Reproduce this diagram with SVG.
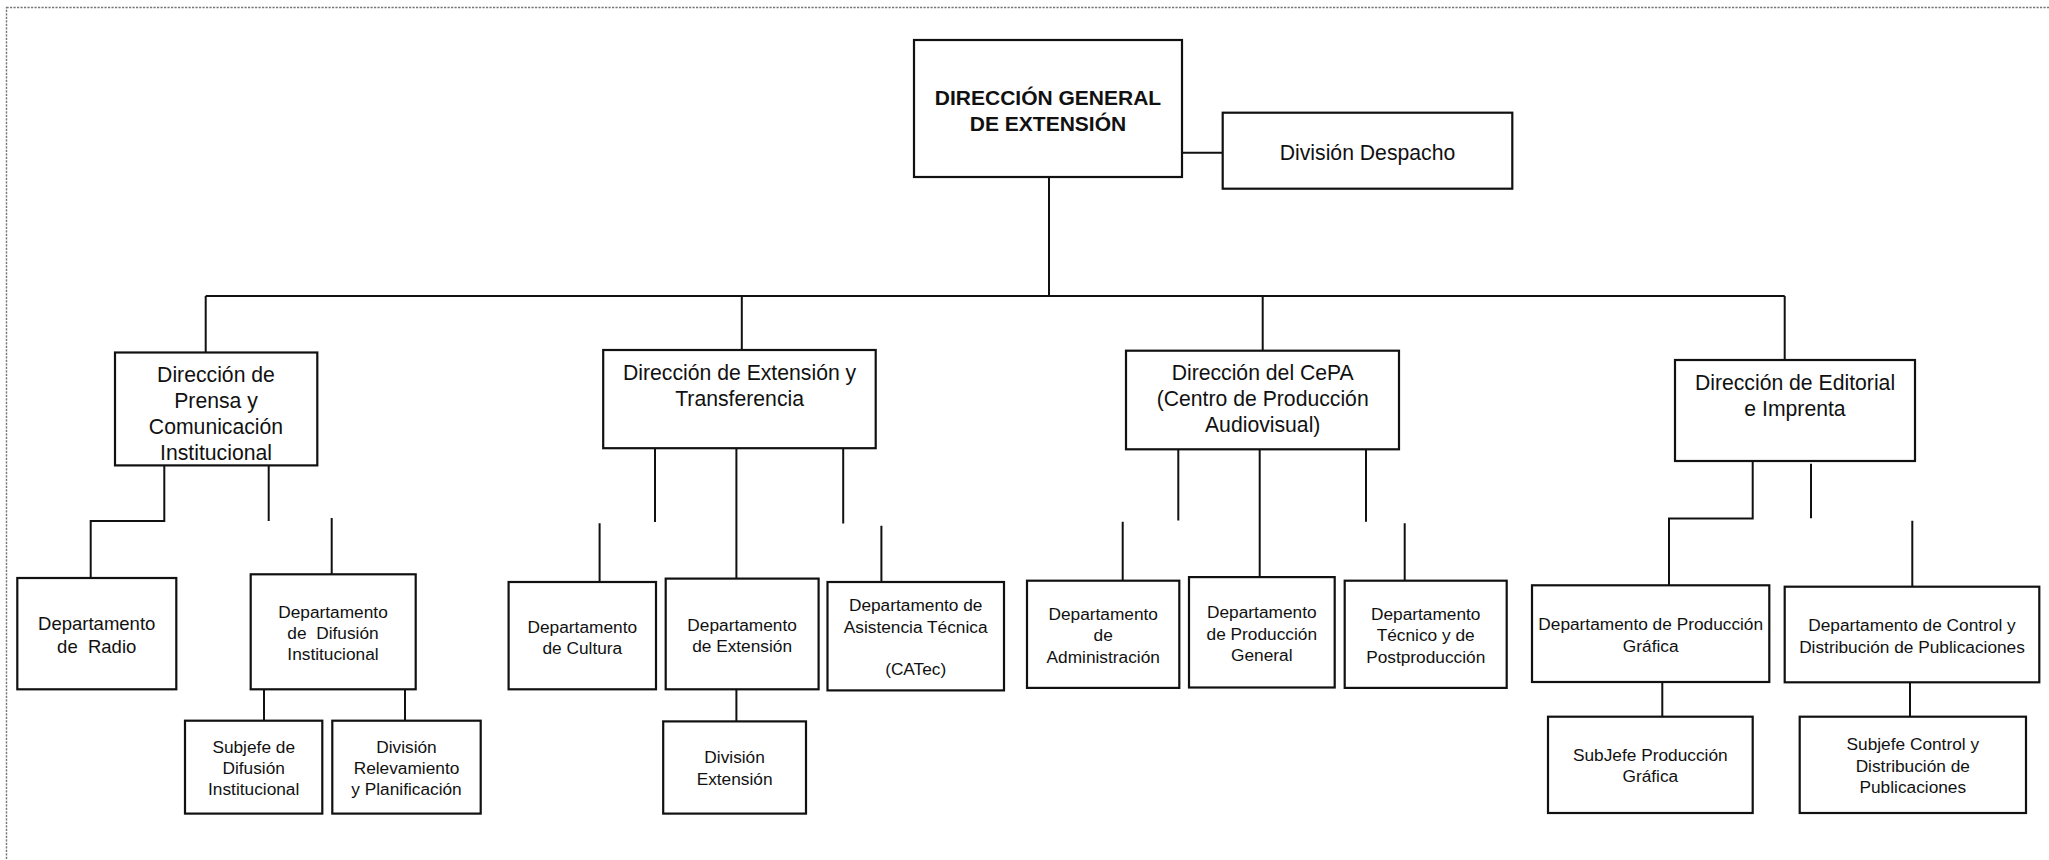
<svg xmlns="http://www.w3.org/2000/svg" width="2049" height="860" viewBox="0 0 2049 860">
<style>
.bx{fill:#fff;stroke:#111;stroke-width:2.2}
.t{font-family:"Liberation Sans",Arial,sans-serif;fill:#111;text-anchor:middle}
.h{font-size:21.2px}
.s{font-size:17.3px}
.r{font-size:18.5px}
.b{font-size:21px;font-weight:bold}
.ln{fill:none;stroke:#111;stroke-width:2}
</style>
<rect x="6.5" y="7.5" width="2100" height="900" fill="#fff" stroke="#777" stroke-width="1.4" stroke-dasharray="2.2,1.3"/>
<g id="connectors">
<path class="ln" d="M1049,177V296M1182,152.7H1222.7M205.7,296H1784.7M205.7,296V352.5M741.8,296V350M1262.7,296V350.7M1784.7,296V360"/>
<path class="ln" d="M164.3,465V521H90.7V578M268.7,465V521M331.7,518V574.3M264,689.3V720.7M405,689.3V720.7"/>
<path class="ln" d="M655,448V522M736.4,448V578.6M843.2,448V523.6M599.6,523.2V582M881.4,525.7V582M736.4,689.3V721.4"/>
<path class="ln" d="M1178.3,449V520.4M1259.7,449V577M1366,449V521.8M1122.7,521.8V580.7M1404.7,523.2V580.7"/>
<path class="ln" d="M1752.7,461V518.5H1669V585.3M1811,463.7V518.3M1912.3,520.7V586.7M1662.3,682V716.7M1910,682.3V716.7"/>
</g>
<g id="n-direccion-general">
<rect class="bx" x="914" y="40" width="268" height="137"/>
<text class="t b" x="1048" y="105">DIRECCIÓN GENERAL</text>
<text class="t b" x="1048" y="130.7">DE EXTENSIÓN</text>
</g>
<g id="n-despacho">
<rect class="bx" x="1222.7" y="112.7" width="289.6" height="76"/>
<text class="t h" x="1367.5" y="160">División Despacho</text>
</g>
<g id="n-prensa">
<rect class="bx" x="115" y="352.5" width="202.3" height="112.9"/>
<text class="t h" x="216" y="382">Dirección de</text>
<text class="t h" x="216" y="408">Prensa y</text>
<text class="t h" x="216" y="434">Comunicación</text>
<text class="t h" x="216" y="460">Institucional</text>
</g>
<g id="n-extension">
<rect class="bx" x="603.2" y="350" width="272.5" height="98.2"/>
<text class="t h" x="739.6" y="380.4">Dirección de Extensión y</text>
<text class="t h" x="739.6" y="405.7">Transferencia</text>
</g>
<g id="n-cepa">
<rect class="bx" x="1126" y="350.7" width="273" height="98.6"/>
<text class="t h" x="1262.7" y="379.5">Dirección del CePA</text>
<text class="t h" x="1262.7" y="405.5">(Centro de Producción</text>
<text class="t h" x="1262.7" y="431.5">Audiovisual)</text>
</g>
<g id="n-editorial">
<rect class="bx" x="1675" y="360" width="240" height="101"/>
<text class="t h" x="1795" y="390">Dirección de Editorial</text>
<text class="t h" x="1795" y="416">e Imprenta</text>
</g>
<g id="n-radio">
<rect class="bx" x="17.3" y="578" width="159" height="111.3"/>
<text class="t r" x="96.7" y="630.4">Departamento</text>
<text class="t r" x="96.7" y="652.9" xml:space="preserve">de  Radio</text>
</g>
<g id="n-difusion">
<rect class="bx" x="250.7" y="574.3" width="165" height="115"/>
<text class="t s" x="333" y="617.9">Departamento</text>
<text class="t s" x="333" y="638.6" xml:space="preserve">de  Difusión</text>
<text class="t s" x="333" y="660">Institucional</text>
</g>
<g id="n-subjefe-difusion">
<rect class="bx" x="185" y="720.7" width="137.3" height="92.9"/>
<text class="t s" x="253.7" y="752.9">Subjefe de</text>
<text class="t s" x="253.7" y="774">Difusión</text>
<text class="t s" x="253.7" y="795">Institucional</text>
</g>
<g id="n-relevamiento">
<rect class="bx" x="332.3" y="720.7" width="148.4" height="92.9"/>
<text class="t s" x="406.5" y="752.9">División</text>
<text class="t s" x="406.5" y="774">Relevamiento</text>
<text class="t s" x="406.5" y="795">y Planificación</text>
</g>
<g id="n-cultura">
<rect class="bx" x="508.6" y="582" width="147.4" height="107.3"/>
<text class="t s" x="582.3" y="632.9">Departamento</text>
<text class="t s" x="582.3" y="653.6">de Cultura</text>
</g>
<g id="n-dept-extension">
<rect class="bx" x="665.7" y="578.6" width="152.9" height="110.7"/>
<text class="t s" x="742.1" y="631.4">Departamento</text>
<text class="t s" x="742.1" y="652.1">de Extensión</text>
</g>
<g id="n-div-extension">
<rect class="bx" x="663.2" y="721.4" width="142.8" height="92.2"/>
<text class="t s" x="734.6" y="763.2">División</text>
<text class="t s" x="734.6" y="784.6">Extensión</text>
</g>
<g id="n-catec">
<rect class="bx" x="827.5" y="582" width="176.5" height="108.4"/>
<text class="t s" x="915.7" y="611.4">Departamento de</text>
<text class="t s" x="915.7" y="632.9">Asistencia Técnica</text>
<text class="t s" x="915.7" y="675">(CATec)</text>
</g>
<g id="n-admin">
<rect class="bx" x="1027" y="580.7" width="152.3" height="107.2"/>
<text class="t s" x="1103.2" y="620">Departamento</text>
<text class="t s" x="1103.2" y="641">de</text>
<text class="t s" x="1103.2" y="662.5">Administración</text>
</g>
<g id="n-prod-general">
<rect class="bx" x="1189" y="577.1" width="145.7" height="110.4"/>
<text class="t s" x="1261.8" y="617.9">Departamento</text>
<text class="t s" x="1261.8" y="639.6">de Producción</text>
<text class="t s" x="1261.8" y="661">General</text>
</g>
<g id="n-tecnico">
<rect class="bx" x="1344.7" y="580.7" width="162" height="107.2"/>
<text class="t s" x="1425.7" y="620">Departamento</text>
<text class="t s" x="1425.7" y="641">Técnico y de</text>
<text class="t s" x="1425.7" y="662.5">Postproducción</text>
</g>
<g id="n-prod-grafica">
<rect class="bx" x="1532" y="585.3" width="237.3" height="96.7"/>
<text class="t s" x="1650.7" y="630">Departamento de Producción</text>
<text class="t s" x="1650.7" y="651.7">Gráfica</text>
</g>
<g id="n-control">
<rect class="bx" x="1784.7" y="586.7" width="254.6" height="95.6"/>
<text class="t s" x="1912" y="631">Departamento de Control y</text>
<text class="t s" x="1912" y="652.7">Distribución de Publicaciones</text>
</g>
<g id="n-subjefe-grafica">
<rect class="bx" x="1548" y="716.7" width="204.7" height="96.3"/>
<text class="t s" x="1650.3" y="760.7">SubJefe Producción</text>
<text class="t s" x="1650.3" y="781.7">Gráfica</text>
</g>
<g id="n-subjefe-control">
<rect class="bx" x="1799.7" y="716.7" width="226.3" height="96.3"/>
<text class="t s" x="1912.8" y="750">Subjefe Control y</text>
<text class="t s" x="1912.8" y="771.7">Distribución de</text>
<text class="t s" x="1912.8" y="792.7">Publicaciones</text>
</g>
</svg>
